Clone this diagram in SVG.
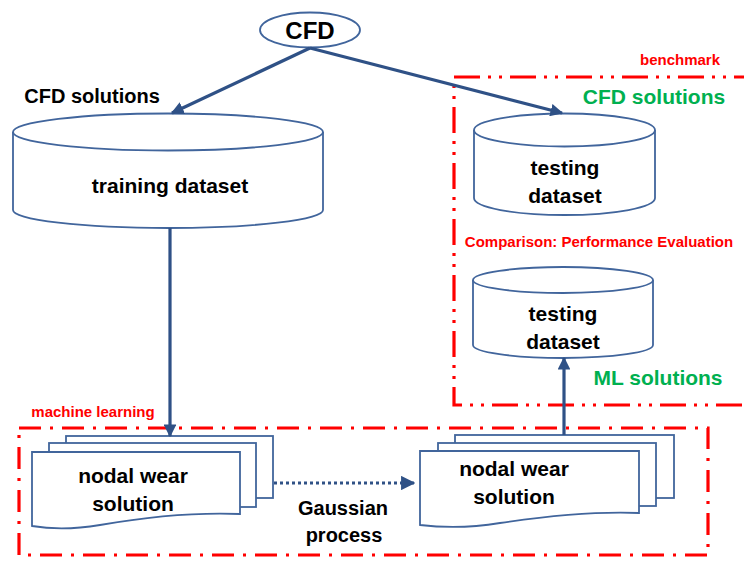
<svg xmlns="http://www.w3.org/2000/svg" width="744" height="563" viewBox="0 0 744 563">
<style>
text{font-family:"Liberation Sans",Arial,sans-serif;font-weight:bold;text-anchor:middle}
.blk{fill:#000}
.red{fill:#ff0000;font-size:15px}
.grn{fill:#00b050;font-size:21px}
.shape{fill:#fff;stroke:#41659c;stroke-width:1.8}
.conn{fill:none;stroke:#2f5186;stroke-width:3.2}
.box{fill:none;stroke:#ff0000;stroke-width:3.2}
</style>
<defs>
<marker id="ah" viewBox="0 0 10 10" refX="9" refY="5" markerWidth="4" markerHeight="4" orient="auto" markerUnits="strokeWidth">
<path d="M0,0 L10,5 L0,10 Z" fill="#2f5186"/>
</marker>
<marker id="ahd" viewBox="0 0 10 10" refX="9" refY="5" markerWidth="4.5" markerHeight="4.5" orient="auto" markerUnits="strokeWidth">
<path d="M0,0 L10,5 L0,10 Z" fill="#2f5186"/>
</marker>
</defs>
<rect width="744" height="563" fill="#fff"/>

<g id="benchmark-box">
<path class="box" d="M760,77 H454 V405 H760" stroke-dasharray="26 8 3 8 3 8"/>
<text class="red" x="680" y="65">benchmark</text>
</g>
<g id="ml-box">
<rect class="box" x="19" y="428" width="689" height="127" stroke-dasharray="22 9 3 9"/>
<text class="red" x="93" y="417">machine learning</text>
</g>

<g id="cfd">
<ellipse class="shape" cx="310" cy="30" rx="50" ry="17.5"/>
<text class="blk" x="310" y="39" font-size="24">CFD</text>
</g>

<g id="training">
<path class="shape" d="M13,132 V210 A155,18 0 0 0 323,210 V132"/>
<ellipse class="shape" cx="168" cy="132" rx="155" ry="18.5"/>
<text class="blk" x="170" y="193" font-size="21">training dataset</text>
</g>
<text class="blk" x="92" y="103" font-size="20">CFD solutions</text>

<g id="testing-cfd">
<path class="shape" d="M474,130 V198 A90.5,17 0 0 0 655,198 V130"/>
<ellipse class="shape" cx="564.5" cy="130" rx="90.5" ry="16.5"/>
<text class="blk" x="565" y="175" font-size="21">testing</text>
<text class="blk" x="565" y="203" font-size="21">dataset</text>
</g>
<text class="grn" x="654" y="104" font-size="20">CFD solutions</text>

<text class="red" x="599" y="247">Comparison: Performance Evaluation</text>

<g id="testing-ml">
<path class="shape" d="M473,280 V345 A90,13 0 0 0 653,345 V280"/>
<ellipse class="shape" cx="563" cy="280" rx="90" ry="13"/>
<text class="blk" x="563" y="321" font-size="21">testing</text>
<text class="blk" x="563" y="349" font-size="21">dataset</text>
</g>
<text class="grn" x="658" y="385">ML solutions</text>

<g id="stack-left">
<rect class="shape" x="66" y="436" width="207" height="62"/>
<rect class="shape" x="49" y="443" width="207" height="64"/>
<path class="shape" d="M32,452 H240 V514 C190,512 140,518 100,525 C70,530 50,529 32,526 Z"/>
<text class="blk" x="133" y="483" font-size="21">nodal wear</text>
<text class="blk" x="133" y="511" font-size="21">solution</text>
</g>

<g id="stack-right">
<rect class="shape" x="455" y="435" width="219" height="63"/>
<rect class="shape" x="438" y="443" width="218" height="63"/>
<path class="shape" d="M420,451 H639 V513 C590,511 540,517 500,523 C470,528 445,528 420,525 Z"/>
<text class="blk" x="514" y="476" font-size="21">nodal wear</text>
<text class="blk" x="514" y="504" font-size="21">solution</text>
</g>

<text class="blk" x="343" y="515" font-size="20">Gaussian</text>
<text class="blk" x="344" y="542" font-size="20">process</text>

<g id="connectors">
<line class="conn" x1="310" y1="48" x2="172" y2="113" marker-end="url(#ah)"/>
<line class="conn" x1="310" y1="48" x2="562" y2="113" marker-end="url(#ah)"/>
<line class="conn" x1="170" y1="228" x2="170" y2="436" marker-end="url(#ah)"/>
<line class="conn" x1="564" y1="435" x2="564" y2="358" marker-end="url(#ah)"/>
<line class="conn" x1="274" y1="483" x2="414" y2="483" stroke-dasharray="3 3" marker-end="url(#ahd)"/>
</g>
</svg>
